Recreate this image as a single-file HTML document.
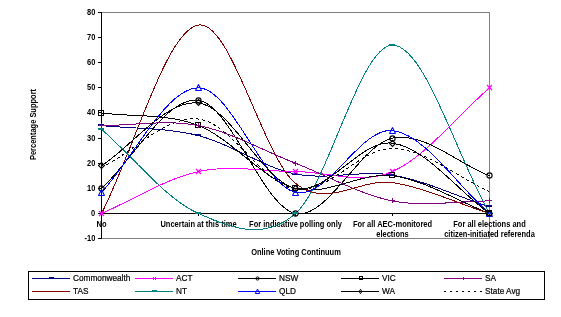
<!DOCTYPE html><html><head><meta charset="utf-8"><style>html,body{margin:0;padding:0;background:#fff;width:561px;height:317px;overflow:hidden}svg{display:block;will-change:transform}text{font-family:"Liberation Sans",sans-serif;fill:#000}.b{font-weight:bold}.n{stroke:#000;stroke-width:0.2px}</style></head><body>
<svg width="561" height="317" viewBox="0 0 561 317">
<path d="M101.5 12.5H489.5V238.5H101.5" fill="none" stroke="#808080" shape-rendering="crispEdges"/>
<g stroke="#000" shape-rendering="crispEdges" fill="none">
<path d="M101.5 12V239"/>
<path d="M101 213.5H490"/>
<path d="M98 238.5H101"/>
<path d="M98 213.5H101"/>
<path d="M98 188.5H101"/>
<path d="M98 163.5H101"/>
<path d="M98 138.5H101"/>
<path d="M98 112.5H101"/>
<path d="M98 87.5H101"/>
<path d="M98 62.5H101"/>
<path d="M98 37.5H101"/>
<path d="M98 12.5H101"/>
<path d="M198.5 213V216"/>
<path d="M295.5 213V216"/>
<path d="M392.5 213V216"/>
<path d="M489.5 213V216"/>
</g>
<text transform="translate(95.3 241.0) scale(0.915 1)" font-size="8.2" text-anchor="end" class="b">-10</text>
<text transform="translate(95.3 216.0) scale(0.915 1)" font-size="8.2" text-anchor="end" class="b">0</text>
<text transform="translate(95.3 191.0) scale(0.915 1)" font-size="8.2" text-anchor="end" class="b">10</text>
<text transform="translate(95.3 166.0) scale(0.915 1)" font-size="8.2" text-anchor="end" class="b">20</text>
<text transform="translate(95.3 141.0) scale(0.915 1)" font-size="8.2" text-anchor="end" class="b">30</text>
<text transform="translate(95.3 115.0) scale(0.915 1)" font-size="8.2" text-anchor="end" class="b">40</text>
<text transform="translate(95.3 90.0) scale(0.915 1)" font-size="8.2" text-anchor="end" class="b">50</text>
<text transform="translate(95.3 65.0) scale(0.915 1)" font-size="8.2" text-anchor="end" class="b">60</text>
<text transform="translate(95.3 40.0) scale(0.915 1)" font-size="8.2" text-anchor="end" class="b">70</text>
<text transform="translate(95.3 15.0) scale(0.915 1)" font-size="8.2" text-anchor="end" class="b">80</text>
<text transform="translate(101.5 227.0) scale(0.915 1)" font-size="8.2" text-anchor="middle" class="b">No</text>
<text transform="translate(198.5 227.0) scale(0.915 1)" font-size="8.2" text-anchor="middle" class="b">Uncertain at this time</text>
<text transform="translate(295.5 227.0) scale(0.915 1)" font-size="8.2" text-anchor="middle" class="b">For indicative polling only</text>
<text transform="translate(392.5 227.0) scale(0.915 1)" font-size="8.2" text-anchor="middle" class="b">For all AEC-monitored</text>
<text transform="translate(392.5 237.0) scale(0.915 1)" font-size="8.2" text-anchor="middle" class="b">elections</text>
<text transform="translate(489.5 227.0) scale(0.915 1)" font-size="8.2" text-anchor="middle" class="b">For all elections and</text>
<text transform="translate(489.5 237.0) scale(0.915 1)" font-size="8.2" text-anchor="middle" class="b">citizen-initiated referenda</text>
<text transform="translate(296 255) scale(0.915 1)" font-size="8.2" text-anchor="middle" class="b">Online Voting Continuum</text>
<text transform="translate(36 124.5) rotate(-90) scale(0.915 1)" font-size="8.2" text-anchor="middle" class="b">Percentage Support</text>
<path d="M101.50 125.56 C133.83 128.91 166.17 127.53 198.50 135.61 C230.83 143.69 263.17 167.48 295.50 174.05 C327.83 180.63 360.17 169.57 392.50 175.06 C424.83 180.54 457.17 196.33 489.50 206.97" fill="none" stroke="#000080" stroke-width="1" shape-rendering="crispEdges"/>
<path d="M101.50 213.50 C133.83 199.51 166.17 178.53 198.50 171.54 C230.83 164.55 263.17 171.54 295.50 171.54 C327.83 171.54 360.17 185.49 392.50 171.54 C424.83 157.60 457.17 115.76 489.50 87.87" fill="none" stroke="#FF00FF" stroke-width="1" shape-rendering="crispEdges"/>
<path d="M101.50 188.38 C133.83 159.06 166.17 96.25 198.50 100.44 C230.83 104.62 263.17 207.22 295.50 213.50 C327.83 219.78 360.17 144.41 392.50 138.12 C424.83 131.84 457.17 163.25 489.50 175.81" fill="none" stroke="#000000" stroke-width="1" shape-rendering="crispEdges"/>
<path d="M101.50 113.00 C133.83 117.19 166.17 113.00 198.50 125.56 C230.83 138.12 263.17 180.00 295.50 188.38 C327.83 196.75 360.17 171.62 392.50 175.81 C424.83 180.00 457.17 200.94 489.50 213.50" fill="none" stroke="#000000" stroke-width="1" shape-rendering="crispEdges"/>
<path d="M101.50 125.56 C133.83 125.56 166.17 119.28 198.50 125.56 C230.83 131.84 263.17 150.69 295.50 163.25 C327.83 175.81 360.17 194.66 392.50 200.94 C424.83 207.22 457.17 200.94 489.50 200.94" fill="none" stroke="#800080" stroke-width="1" shape-rendering="crispEdges"/>
<path d="M101.50 213.50 C133.83 150.69 166.17 30.09 198.50 25.06 C230.83 20.04 263.17 157.09 295.50 183.35 C327.83 209.61 360.17 177.57 392.50 182.60 C424.83 187.62 457.17 203.20 489.50 213.50" fill="none" stroke="#800000" stroke-width="1" shape-rendering="crispEdges"/>
<path d="M101.50 129.33 C133.83 157.39 166.17 199.47 198.50 213.50 C230.83 227.53 263.17 241.56 295.50 213.50 C327.83 185.44 360.17 45.16 392.50 45.16 C424.83 45.16 457.17 157.39 489.50 213.50" fill="none" stroke="#008080" stroke-width="1" shape-rendering="crispEdges"/>
<path d="M101.50 192.39 C133.83 157.55 166.17 87.87 198.50 87.87 C230.83 87.87 263.17 185.28 295.50 192.39 C327.83 199.51 360.17 127.07 392.50 130.59 C424.83 134.10 457.17 185.86 489.50 213.50" fill="none" stroke="#0000FF" stroke-width="1" shape-rendering="crispEdges"/>
<path d="M101.50 165.76 C133.83 144.82 166.17 99.18 198.50 102.95 C230.83 106.72 263.17 181.68 295.50 188.38 C327.83 195.07 360.17 138.96 392.50 143.15 C424.83 147.34 457.17 190.05 489.50 213.50" fill="none" stroke="#000000" stroke-width="1" shape-rendering="crispEdges"/>
<path d="M101.50 167.68 C133.83 151.47 166.17 115.46 198.50 119.06 C230.83 122.66 263.17 184.38 295.50 189.29 C327.83 194.19 360.17 148.12 392.50 148.49 C424.83 148.86 457.17 177.17 489.50 191.52" fill="none" stroke="#000000" stroke-width="1" stroke-dasharray="3 3" shape-rendering="crispEdges"/>
<rect x="98" y="124" width="6" height="2" fill="#000080" shape-rendering="crispEdges"/>
<rect x="195" y="134" width="6" height="2" fill="#000080" shape-rendering="crispEdges"/>
<rect x="292" y="173" width="6" height="2" fill="#000080" shape-rendering="crispEdges"/>
<rect x="389" y="174" width="6" height="2" fill="#000080" shape-rendering="crispEdges"/>
<rect x="486" y="205" width="6" height="2" fill="#000080" shape-rendering="crispEdges"/>
<path d="M99 211L104 216M104 211L99 216" stroke="#FF00FF" stroke-width="1.2" fill="none"/>
<path d="M196 169L201 174M201 169L196 174" stroke="#FF00FF" stroke-width="1.2" fill="none"/>
<path d="M293 169L298 174M298 169L293 174" stroke="#FF00FF" stroke-width="1.2" fill="none"/>
<path d="M390 169L395 174M395 169L390 174" stroke="#FF00FF" stroke-width="1.2" fill="none"/>
<path d="M487 85L492 90M492 85L487 90" stroke="#FF00FF" stroke-width="1.2" fill="none"/>
<circle cx="101.5" cy="188.5" r="2.6" stroke="#000000" stroke-width="1.1" fill="none"/>
<circle cx="198.5" cy="100.5" r="2.6" stroke="#000000" stroke-width="1.1" fill="none"/>
<circle cx="295.5" cy="213.5" r="2.6" stroke="#000000" stroke-width="1.1" fill="none"/>
<circle cx="392.5" cy="138.5" r="2.6" stroke="#000000" stroke-width="1.1" fill="none"/>
<circle cx="489.5" cy="175.5" r="2.6" stroke="#000000" stroke-width="1.1" fill="none"/>
<rect x="98.5" y="110.5" width="5" height="5" stroke="#000000" fill="none" shape-rendering="crispEdges"/>
<rect x="195.5" y="122.5" width="5" height="5" stroke="#000000" fill="none" shape-rendering="crispEdges"/>
<rect x="292.5" y="185.5" width="5" height="5" stroke="#000000" fill="none" shape-rendering="crispEdges"/>
<rect x="389.5" y="172.5" width="5" height="5" stroke="#000000" fill="none" shape-rendering="crispEdges"/>
<rect x="486.5" y="210.5" width="5" height="5" stroke="#000000" fill="none" shape-rendering="crispEdges"/>
<path d="M99 125.5H104 M101.5 123V128" stroke="#800080" fill="none" shape-rendering="crispEdges"/>
<path d="M196 125.5H201 M198.5 123V128" stroke="#800080" fill="none" shape-rendering="crispEdges"/>
<path d="M293 163.5H298 M295.5 161V166" stroke="#800080" fill="none" shape-rendering="crispEdges"/>
<path d="M390 200.5H395 M392.5 198V203" stroke="#800080" fill="none" shape-rendering="crispEdges"/>
<path d="M487 200.5H492 M489.5 198V203" stroke="#800080" fill="none" shape-rendering="crispEdges"/>
<rect x="98" y="128" width="6" height="2" fill="#008080" shape-rendering="crispEdges"/>
<rect x="195" y="212" width="6" height="2" fill="#008080" shape-rendering="crispEdges"/>
<rect x="292" y="212" width="6" height="2" fill="#008080" shape-rendering="crispEdges"/>
<rect x="389" y="44" width="6" height="2" fill="#008080" shape-rendering="crispEdges"/>
<rect x="486" y="212" width="6" height="2" fill="#008080" shape-rendering="crispEdges"/>
<path d="M101.5 189.5L104.5 195.5L98.5 195.5Z" stroke="#0000FF" stroke-width="1.1" fill="none" stroke-linejoin="bevel"/>
<path d="M198.5 84.5L201.5 90.5L195.5 90.5Z" stroke="#0000FF" stroke-width="1.1" fill="none" stroke-linejoin="bevel"/>
<path d="M295.5 189.5L298.5 195.5L292.5 195.5Z" stroke="#0000FF" stroke-width="1.1" fill="none" stroke-linejoin="bevel"/>
<path d="M392.5 127.5L395.5 133.5L389.5 133.5Z" stroke="#0000FF" stroke-width="1.1" fill="none" stroke-linejoin="bevel"/>
<path d="M489.5 210.5L492.5 216.5L486.5 216.5Z" stroke="#0000FF" stroke-width="1.1" fill="none" stroke-linejoin="bevel"/>
<path d="M101.5 162.5L104.5 165.5L101.5 168.5L98.5 165.5Z" stroke="#000000" stroke-width="1.1" fill="none"/>
<path d="M198.5 99.5L201.5 102.5L198.5 105.5L195.5 102.5Z" stroke="#000000" stroke-width="1.1" fill="none"/>
<path d="M295.5 185.5L298.5 188.5L295.5 191.5L292.5 188.5Z" stroke="#000000" stroke-width="1.1" fill="none"/>
<path d="M392.5 140.5L395.5 143.5L392.5 146.5L389.5 143.5Z" stroke="#000000" stroke-width="1.1" fill="none"/>
<path d="M489.5 210.5L492.5 213.5L489.5 216.5L486.5 213.5Z" stroke="#000000" stroke-width="1.1" fill="none"/>
<rect x="28.5" y="271.5" width="516" height="28" fill="none" stroke="#000" shape-rendering="crispEdges"/>
<path d="M32 278.5H70" stroke="#000080" shape-rendering="crispEdges"/>
<rect x="49" y="277" width="5" height="2" fill="#000080" shape-rendering="crispEdges"/>
<text x="73" y="281.0" font-size="8.25" class="n">Commonwealth</text>
<path d="M135 278.5H173" stroke="#FF00FF" shape-rendering="crispEdges"/>
<path d="M153.5 277V280 M155.5 277V280" stroke="#FF00FF" shape-rendering="crispEdges"/>
<text x="176" y="281.0" font-size="8.25" class="n">ACT</text>
<path d="M238 278.5H276" stroke="#000000" shape-rendering="crispEdges"/>
<circle cx="257.5" cy="278.5" r="1.6" stroke="#000000" fill="none"/>
<text x="279" y="281.0" font-size="8.25" class="n">NSW</text>
<path d="M341 278.5H379" stroke="#000000" shape-rendering="crispEdges"/>
<rect x="359.0" y="276.5" width="3" height="3" stroke="#000000" fill="none" shape-rendering="crispEdges"/>
<text x="382" y="281.0" font-size="8.25" class="n">VIC</text>
<path d="M444 278.5H482" stroke="#800080" shape-rendering="crispEdges"/>
<path d="M463.5 277V280" stroke="#800080" shape-rendering="crispEdges"/>
<text x="485" y="281.0" font-size="8.25" class="n">SA</text>
<path d="M32 291.5H70" stroke="#800000" shape-rendering="crispEdges"/>
<text x="73" y="294.0" font-size="8.25" class="n">TAS</text>
<path d="M135 291.5H173" stroke="#008080" shape-rendering="crispEdges"/>
<rect x="152" y="290" width="5" height="2" fill="#008080" shape-rendering="crispEdges"/>
<text x="176" y="294.0" font-size="8.25" class="n">NT</text>
<path d="M238 291.5H276" stroke="#0000FF" shape-rendering="crispEdges"/>
<path d="M257.5 289.0L259.7 293.5L255.3 293.5Z" stroke="#0000FF" fill="none"/>
<text x="279" y="294.0" font-size="8.25" class="n">QLD</text>
<path d="M341 291.5H379" stroke="#000000" shape-rendering="crispEdges"/>
<path d="M360.5 289.3L361.8 291.5L360.5 293.7L359.2 291.5Z" stroke="#000000" fill="none"/>
<text x="382" y="294.0" font-size="8.25" class="n">WA</text>
<path d="M444 291.5H482" stroke="#000000" stroke-dasharray="2 4" shape-rendering="crispEdges"/>
<text x="485" y="294.0" font-size="8.25" class="n">State Avg</text>
</svg></body></html>
